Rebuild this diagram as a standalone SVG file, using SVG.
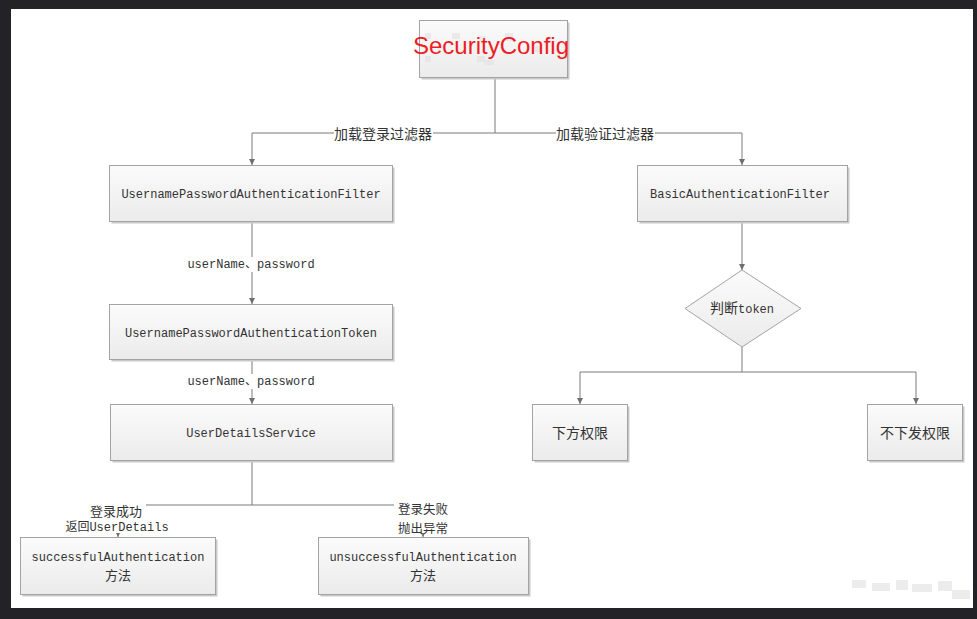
<svg xmlns="http://www.w3.org/2000/svg" width="977" height="619" viewBox="0 0 977 619">
<defs>
<linearGradient id="g" x1="0" y1="0" x2="0" y2="1">
<stop offset="0" stop-color="#fbfbfb"/>
<stop offset="1" stop-color="#ebebeb"/>
</linearGradient>
<marker id="a" markerUnits="userSpaceOnUse" markerWidth="8" markerHeight="8" refX="6" refY="3" orient="auto">
<path d="M0,0 L6,3 L0,6 z" fill="#6f6f6f"/>
</marker>
<style>
.box{fill:url(#g);stroke:#a3a3a3;stroke-width:1}
.sh{fill:#c9c9c9}
.t{font-family:"Liberation Mono","Noto Sans CJK SC",monospace;font-size:12px;fill:#333;text-anchor:middle}
.c{font-family:"Noto Sans CJK SC","Liberation Sans",sans-serif;font-size:14px;fill:#333;text-anchor:middle}
.s{font-size:13px}
.xs{font-size:12.5px}
.ln{fill:none;stroke:#7a7a7a;stroke-width:1}
.ar{marker-end:url(#a)}
.bg{fill:#fff}
</style>
</defs>
<rect x="0" y="0" width="977" height="619" fill="#232327"/>
<rect x="11" y="9" width="962" height="599" fill="#fff"/>
<g fill="#ececec">
<rect x="852" y="580" width="14" height="8"/><rect x="872" y="583" width="18" height="8"/><rect x="896" y="580" width="12" height="10"/><rect x="912" y="584" width="20" height="8"/><rect x="938" y="581" width="14" height="10"/><rect x="952" y="590" width="18" height="9"/>
</g>

<g id="connectors">
<path class="ln" d="M495,78 V133"/>
<path class="ln ar" d="M495,133 H252 V165"/>
<path class="ln ar" d="M495,133 H742 V165"/>
<path class="ln ar" d="M252,222 V304"/>
<path class="ln ar" d="M252,360 V404"/>
<path class="ln" d="M252,461 V505"/>
<path class="ln ar" d="M252,505 H118 V537"/>
<path class="ln ar" d="M252,505 H423 V537"/>
<path class="ln ar" d="M742,222 V270"/>
<path class="ln" d="M742,347 V372"/>
<path class="ln ar" d="M742,372 H580 V404"/>
<path class="ln ar" d="M742,372 H916 V404"/>
<rect class="bg" x="334" y="125" width="99" height="16"/>
<text class="c" x="383" y="139">加载登录过滤器</text>
<rect class="bg" x="556" y="125" width="99" height="16"/>
<text class="c" x="605" y="139">加载验证过滤器</text>
<rect class="bg" x="184" y="257" width="135" height="15"/>
<text class="t" x="251" y="268">userName、password</text>
<rect class="bg" x="184" y="374" width="135" height="15"/>
<text class="t" x="251" y="385">userName、password</text>
<rect class="bg" x="88" y="503" width="58" height="16"/>
<rect class="bg" x="62" y="518" width="110" height="15"/>
<text class="c s" x="116" y="516">登录成功</text>
<text class="t" x="117" y="531">返回UserDetails</text>
<rect class="bg" x="394" y="502" width="58" height="31"/>
<text class="c xs" x="423" y="514">登录失败</text>
<text class="c xs" x="423" y="532.5">抛出异常</text>
</g>

<g id="securityConfig">
<rect class="sh" x="421.5" y="22.5" width="148" height="57"/>
<rect class="box" x="419.5" y="20.5" width="148" height="57"/>
<g fill="#e2e2e2" opacity="0.6">
<rect x="425" y="33" width="6" height="6"/><rect x="452" y="33" width="8" height="6"/><rect x="480" y="36" width="6" height="6"/><rect x="505" y="33" width="8" height="8"/><rect x="535" y="46" width="6" height="6"/>
<rect x="425" y="56" width="6" height="6"/><rect x="477" y="56" width="8" height="6"/><rect x="484" y="60" width="10" height="5"/>
</g>
<text x="491" y="54" font-family="Liberation Sans, Arial, sans-serif" font-size="24" fill="#ee1c25" text-anchor="middle">SecurityConfig</text>
</g>

<g id="usernamePasswordAuthenticationFilter">
<rect class="sh" x="111.5" y="167.5" width="283" height="56"/>
<rect class="box" x="109.5" y="165.5" width="283" height="56"/>
<text class="t" x="251" y="198">UsernamePasswordAuthenticationFilter</text>
</g>

<g id="usernamePasswordAuthenticationToken">
<rect class="sh" x="111.5" y="306.5" width="283" height="55"/>
<rect class="box" x="109.5" y="304.5" width="283" height="55"/>
<text class="t" x="251" y="337">UsernamePasswordAuthenticationToken</text>
</g>

<g id="userDetailsService">
<rect class="sh" x="112.5" y="406.5" width="282" height="56"/>
<rect class="box" x="110.5" y="404.5" width="282" height="56"/>
<text class="t" x="251" y="437">UserDetailsService</text>
</g>

<g id="successfulAuthentication">
<rect class="sh" x="22.5" y="539.5" width="195" height="57"/>
<rect class="box" x="20.5" y="537.5" width="195" height="57"/>
<text class="t" x="118" y="561">successfulAuthentication</text>
<text class="c s" x="118" y="580">方法</text>
</g>

<g id="unsuccessfulAuthentication">
<rect class="sh" x="320.5" y="539.5" width="210" height="57"/>
<rect class="box" x="318.5" y="537.5" width="210" height="57"/>
<text class="t" x="423" y="561">unsuccessfulAuthentication</text>
<text class="c s" x="423" y="580">方法</text>
</g>

<g id="basicAuthenticationFilter">
<rect class="sh" x="639.5" y="167.5" width="210" height="56"/>
<rect class="box" x="637.5" y="165.5" width="210" height="56"/>
<text class="t" x="740" y="198">BasicAuthenticationFilter</text>
</g>

<g id="judgeToken">
<polygon points="742,270 801,308.5 742,347 685,308.5" fill="url(#g)" stroke="#a3a3a3"/>
<text class="t" x="742" y="313"><tspan font-family="Noto Sans CJK SC, sans-serif" font-size="14">判断</tspan>token</text>
</g>

<g id="grant">
<rect class="sh" x="534.5" y="406.5" width="95" height="56"/>
<rect class="box" x="532.5" y="404.5" width="95" height="56"/>
<text class="c" x="580" y="438">下方权限</text>
</g>

<g id="noGrant">
<rect class="sh" x="869.5" y="406.5" width="95" height="56"/>
<rect class="box" x="867.5" y="404.5" width="95" height="56"/>
<text class="c" x="915" y="438">不下发权限</text>
</g>
</svg>
